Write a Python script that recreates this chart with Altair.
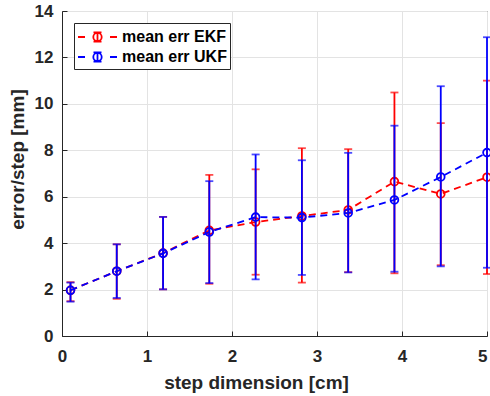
import altair as alt
import pandas as pd

# step sizes [cm]
step_cm = [0.1, 0.644, 1.189, 1.733, 2.278, 2.822, 3.367, 3.911, 4.456, 5.0]

# EKF: mean error per step and error-bar limits [mm]
ekf_mean = [1.97, 2.79, 3.57, 4.55, 4.91, 5.17, 5.43, 6.65, 6.12, 6.84]
ekf_upper = [2.32, 3.95, 5.13, 6.94, 7.18, 8.09, 8.05, 10.49, 9.17, 11.0]
ekf_lower = [1.50, 1.60, 2.01, 2.25, 2.64, 2.30, 2.75, 2.70, 3.05, 2.67]

# UKF: mean error per step and error-bar limits [mm]
ukf_mean = [1.97, 2.79, 3.56, 4.48, 5.12, 5.10, 5.30, 5.86, 6.85, 7.90]
ukf_upper = [2.30, 3.95, 5.13, 6.67, 7.82, 7.57, 7.89, 9.06, 10.76, 12.87]
ukf_lower = [1.48, 1.64, 2.01, 2.28, 2.44, 2.63, 2.74, 2.77, 3.00, 2.94]

series_names = ["mean err EKF", "mean err UKF"]
series_colors = ["#ff0000", "#0000ff"]

FONT = "Liberation Sans"
INK = "#262626"


def frame(name, mean, lower, upper):
    return pd.DataFrame(
        {"step": step_cm, "mean": mean, "lower": lower, "upper": upper, "series": name}
    )


frames = [
    frame(series_names[0], ekf_mean, ekf_lower, ekf_upper),
    frame(series_names[1], ukf_mean, ukf_lower, ukf_upper),
]

x_enc = alt.X(
    "step:Q",
    scale=alt.Scale(domain=[0, 5], nice=False, zero=False),
    axis=alt.Axis(
        values=[0, 1, 2, 3, 4, 5],
        title="step dimension [cm]",
        titleX=194,
        titleY=46,
        titleBaseline="middle",
        titleAlign="center",
        # keep the last label inside the canvas
        labelAlign=alt.ExprRef("datum.value >= 5 ? 'right' : 'center'"),
    ),
)
y_scale = alt.Scale(domain=[0, 14], nice=False)
y_axis = alt.Axis(
    values=list(range(0, 15, 2)),
    title="error/step [mm]",
    titleX=-45,
    titleY=148,
    titleAngle=270,
    titleBaseline="middle",
    titleAlign="center",
)
color_scale = alt.Scale(domain=series_names, range=series_colors)

# legend glyph (one unit = 10 px): dashed line, error bar and open circle
legend_path = (
    "M-1,0L-0.3,0M2.2,0L2.9,0"
    "M0.53,0A0.42,0.42,0,1,0,1.37,0A0.42,0.42,0,1,0,0.53,0"
    "M0.95,-0.47L0.95,0.47M0.55,-0.47L1.35,-0.47M0.55,0.47L1.35,0.47"
)
legend = alt.Legend(
    title=None,
    orient="none",
    legendX=12,
    legendY=12,
    symbolType=legend_path,
    symbolSize=400,
    symbolStrokeWidth=1.8,
    symbolFillColor="transparent",
    labelFont=FONT,
    labelFontWeight="bold",
    labelFontSize=16,
    labelColor="#000000",
    labelOffset=23,
    strokeColor=INK,
    fillColor="white",
    padding=3,
    rowPadding=0,
)

layers = []
for name, colour, df in zip(series_names, series_colors, frames):
    base = alt.Chart(df)
    c = alt.value(colour)
    line = base.mark_line(strokeDash=[7, 5], strokeWidth=1.8).encode(
        x=x_enc, y=alt.Y("mean:Q", scale=y_scale, axis=y_axis), color=c
    )
    bar = base.mark_rule(strokeWidth=1.8).encode(
        x=x_enc, y=alt.Y("lower:Q", scale=y_scale), y2="upper:Q", color=c
    )
    cap_lo = base.mark_tick(orient="horizontal", size=8, thickness=1.8).encode(
        x=x_enc, y=alt.Y("lower:Q", scale=y_scale), color=c
    )
    cap_hi = base.mark_tick(orient="horizontal", size=8, thickness=1.8).encode(
        x=x_enc, y=alt.Y("upper:Q", scale=y_scale), color=c
    )
    pts = base.mark_point(shape="circle", filled=False, size=60, strokeWidth=1.8, opacity=1).encode(
        x=x_enc,
        y=alt.Y("mean:Q", scale=y_scale),
        color=alt.Color("series:N", scale=color_scale, legend=legend),
    )
    layers += [line, bar, cap_lo, cap_hi, pts]

chart = (
    alt.layer(*layers)
    .properties(
        width=425,
        height=325,
        autosize="none",
        padding={"left": 62, "top": 11, "right": 3, "bottom": 60},
    )
    .configure_view(stroke=INK, strokeWidth=1)
    .configure_axis(
        labelFont=FONT,
        labelFontWeight="bold",
        labelFontSize=17,
        labelColor=INK,
        labelFlush=False,
        titleFont=FONT,
        titleFontWeight="bold",
        titleFontSize=19,
        titleColor=INK,
        domainColor=INK,
        tickColor=INK,
        tickSize={"expr": "-5"},
        gridColor="#e3e3e3",
        gridWidth=1,
    )
    .configure_axisX(labelPadding=17)
    .configure_axisY(labelPadding=14)
)

chart.save("out.html", embed_options={"renderer": "svg", "actions": False})
